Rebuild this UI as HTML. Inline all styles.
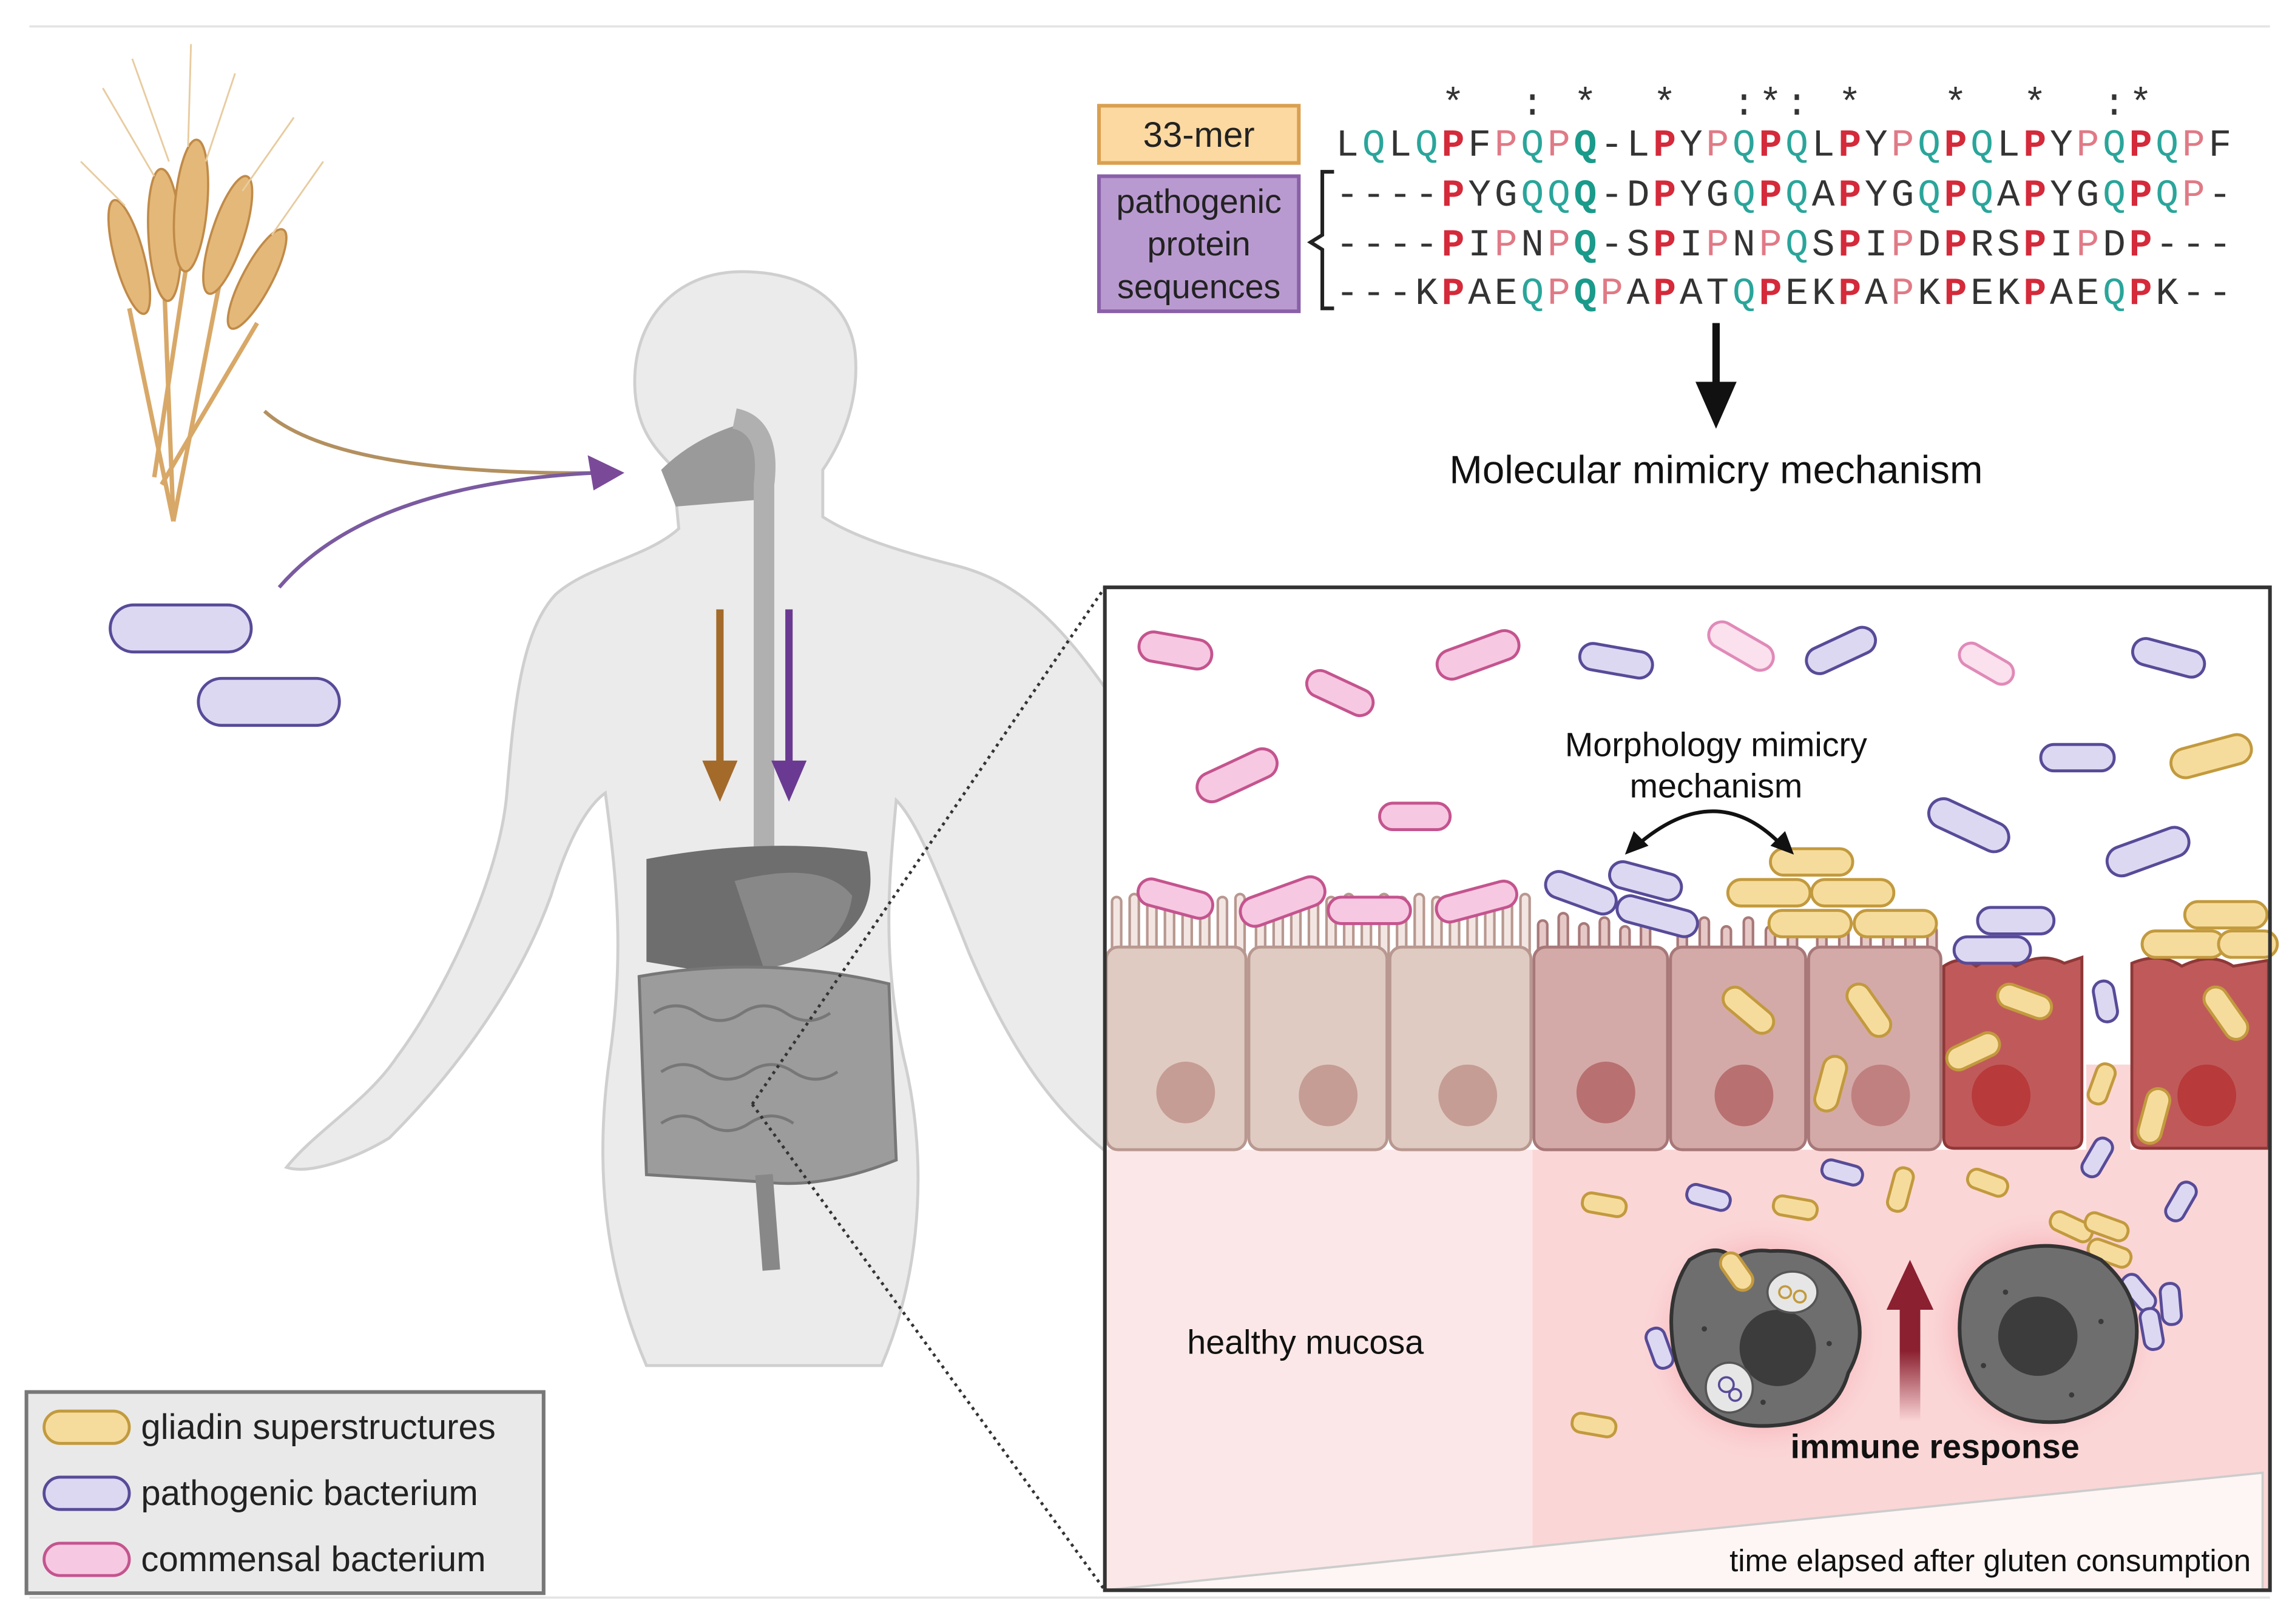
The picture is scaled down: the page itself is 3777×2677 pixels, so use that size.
<!DOCTYPE html>
<html><head><meta charset="utf-8"><style>
html,body{margin:0;padding:0;background:#fff}
svg{display:block}
text{font-family:"Liberation Sans",sans-serif}
.m{font-family:"Liberation Mono",monospace;font-size:26px;text-anchor:middle;fill:#333}
.R{fill:#d42a3a;font-weight:bold}.r{fill:#e07a86}.t{fill:#2aa59a}.T{fill:#1a9a8a;font-weight:bold}
.pk{fill:#f7c8e2;stroke:#c4548e;stroke-width:2}
.pl{fill:#fbe0ee;stroke:#e08ab8;stroke-width:2}
.pu{fill:#dcd8f2;stroke:#574b98;stroke-width:2}
.ye{fill:#f6dc9c;stroke:#c29a3e;stroke-width:2}
</style></head><body>
<svg width="3777" height="2677" viewBox="0 0 1560 1106" preserveAspectRatio="none" xmlns="http://www.w3.org/2000/svg">
<defs>
<linearGradient id="ar" x1="0" y1="1" x2="0" y2="0"><stop offset="0" stop-color="#8b2030" stop-opacity="0"/><stop offset="0.6" stop-color="#8b2030"/></linearGradient>
<radialGradient id="glow"><stop offset="0.6" stop-color="#f4a0a8" stop-opacity="0.7"/><stop offset="1" stop-color="#fbd5d6" stop-opacity="0"/></radialGradient>
</defs>
<line x1="20" y1="18" x2="1545" y2="18" stroke="#e4e4e4" stroke-width="1.5"/>
<line x1="20" y1="1088" x2="1545" y2="1088" stroke="#e4e4e4" stroke-width="1.5"/>

<!-- wheat -->
<g stroke="#d8a868" stroke-width="3" fill="none">
<path d="M118 355 L112 200"/><path d="M118 355 L150 190"/><path d="M110 330 L175 220"/><path d="M118 355 L88 210"/><path d="M105 325 L130 160"/>
</g>
<g fill="#e4b878" stroke="#c08a48" stroke-width="1.5">
<ellipse cx="112" cy="160" rx="11" ry="45" transform="rotate(-3 112 160)"/>
<ellipse cx="130" cy="140" rx="11" ry="45" transform="rotate(5 130 140)"/>
<ellipse cx="155" cy="160" rx="11" ry="42" transform="rotate(18 155 160)"/>
<ellipse cx="88" cy="175" rx="10" ry="40" transform="rotate(-15 88 175)"/>
<ellipse cx="175" cy="190" rx="10" ry="38" transform="rotate(28 175 190)"/>
</g>
<g stroke="#e8cca0" stroke-width="1.2">
<path d="M70 60 L105 120 M90 40 L115 110 M130 30 L128 100 M160 50 L140 110 M200 80 L165 130 M220 110 L185 160 M55 110 L85 140"/>
</g>

<!-- body -->
<path d="M505 185 C462 185 432 215 432 260 C432 290 445 305 458 318 L462 360 C440 380 400 385 378 405 C355 430 350 480 345 540 C340 600 300 680 270 720 C250 750 215 770 195 795 C210 800 240 790 265 775 C300 740 350 680 375 610 C390 560 405 545 412 540 C420 600 425 650 415 720 C405 790 410 860 440 930 L600 930 C630 860 630 780 615 720 C600 650 605 600 610 545 C625 560 640 600 660 650 C690 720 720 760 760 790 L760 480 C720 420 690 395 650 385 C610 375 580 365 560 352 L560 320 C575 298 585 270 582 240 C578 205 548 185 505 185 Z" fill="#ebebeb" stroke="#cfcfcf" stroke-width="2"/>
<path d="M450 320 Q470 300 500 290 L515 300 L520 340 L460 345 Z" fill="#9a9a9a"/>
<path d="M500 285 Q525 290 520 330 L520 580" stroke="#b0b0b0" stroke-width="14" fill="none"/>
<path d="M440 585 Q520 570 590 580 Q600 620 570 640 Q520 670 470 660 L440 655 Z" fill="#6e6e6e"/>
<path d="M500 600 Q560 585 580 610 Q575 650 520 660 Z" fill="#888"/>
<path d="M435 665 Q520 650 605 670 L610 790 Q560 810 520 805 L440 800 Z" fill="#9c9c9c" stroke="#777" stroke-width="2"/>
<path d="M520 800 L525 865" stroke="#888" stroke-width="12"/>
<path d="M445 690 q15 -10 30 0 q15 10 30 0 q15 -10 30 0 q15 10 30 0 M450 730 q15 -10 30 0 q15 10 30 0 q15 -10 30 0 q15 10 30 0 M450 765 q15 -10 30 0 q15 10 30 0 q15 -10 30 0" stroke="#777" stroke-width="2" fill="none"/>

<!-- arrows to mouth -->
<path d="M180 280 Q230 325 420 322" stroke="#b39060" stroke-width="2.5" fill="none"/>
<path d="M190 400 Q250 330 405 322" stroke="#7a5aa0" stroke-width="2.5" fill="none"/>
<polygon points="425,322 400,310 404,334" fill="#7a4a98"/>
<rect class="pu" x="75" y="412" width="96" height="32" rx="16" stroke-width="2.5"/>
<rect class="pu" x="135" y="462" width="96" height="32" rx="16" stroke-width="2.5"/>
<!-- down arrows -->
<line x1="490" y1="415" x2="490" y2="525" stroke="#a36a2a" stroke-width="5"/><polygon points="478,518 502,518 490,546" fill="#a36a2a"/>
<line x1="537" y1="415" x2="537" y2="525" stroke="#6a3a92" stroke-width="5"/><polygon points="525,518 549,518 537,546" fill="#6a3a92"/>

<!-- dotted zoom lines -->
<line x1="512" y1="752" x2="752" y2="400" stroke="#333" stroke-width="2" stroke-dasharray="2,3"/>
<line x1="512" y1="752" x2="752" y2="1083" stroke="#333" stroke-width="2" stroke-dasharray="2,3"/>

<!-- legend -->
<rect x="18" y="948" width="352" height="137" fill="#e9e9e9" stroke="#777" stroke-width="2.5"/>
<rect class="ye" x="30" y="961" width="58" height="22" rx="11"/>
<rect class="pu" x="30" y="1006" width="58" height="22" rx="11"/>
<rect class="pk" x="30" y="1051" width="58" height="22" rx="11"/>
<text x="96" y="980" font-size="24" fill="#222">gliadin superstructures</text>
<text x="96" y="1025" font-size="24" fill="#222">pathogenic bacterium</text>
<text x="96" y="1070" font-size="24" fill="#222">commensal bacterium</text>

<!-- sequence panel -->
<rect x="748" y="72" width="136" height="39" fill="#fcd9a0" stroke="#d9a050" stroke-width="2.5"/>
<text x="816" y="100" font-size="24" text-anchor="middle" fill="#222">33-mer</text>
<rect x="748" y="120" width="136" height="92" fill="#b99ad0" stroke="#8a60a8" stroke-width="2.5"/>
<text x="816" y="145" font-size="23" text-anchor="middle" fill="#222">pathogenic</text>
<text x="816" y="174" font-size="23" text-anchor="middle" fill="#222">protein</text>
<text x="816" y="203" font-size="23" text-anchor="middle" fill="#222">sequences</text>
<path d="M908 117 L900 117 L900 160 L892 165 L900 170 L900 210 L908 210" stroke="#222" stroke-width="2.5" fill="none"/>

<text class="m" x="989 1043 1079 1133 1187 1205 1223 1259 1331 1385 1439 1457" y="78" font-size="24">*:**:*:***:*</text>
<text class="m" y="106" x="917 935 953 971 989 1007 1025 1043 1061 1079 1097 1115 1133 1151 1169 1187 1205 1223 1241 1259 1277 1295 1313 1331 1349 1367 1385 1403 1421 1439 1457 1475 1493 1511">L<tspan class="t">Q</tspan>L<tspan class="t">Q</tspan><tspan class="R">P</tspan>F<tspan class="r">P</tspan><tspan class="t">Q</tspan><tspan class="r">P</tspan><tspan class="T">Q</tspan>-L<tspan class="R">P</tspan>Y<tspan class="r">P</tspan><tspan class="t">Q</tspan><tspan class="R">P</tspan><tspan class="t">Q</tspan>L<tspan class="R">P</tspan>Y<tspan class="r">P</tspan><tspan class="t">Q</tspan><tspan class="R">P</tspan><tspan class="t">Q</tspan>L<tspan class="R">P</tspan>Y<tspan class="r">P</tspan><tspan class="t">Q</tspan><tspan class="R">P</tspan><tspan class="t">Q</tspan><tspan class="r">P</tspan>F</text>
<text class="m" y="140" x="917 935 953 971 989 1007 1025 1043 1061 1079 1097 1115 1133 1151 1169 1187 1205 1223 1241 1259 1277 1295 1313 1331 1349 1367 1385 1403 1421 1439 1457 1475 1493 1511">----<tspan class="R">P</tspan>YG<tspan class="t">QQ</tspan><tspan class="T">Q</tspan>-D<tspan class="R">P</tspan>YG<tspan class="t">Q</tspan><tspan class="R">P</tspan><tspan class="t">Q</tspan>A<tspan class="R">P</tspan>YG<tspan class="t">Q</tspan><tspan class="R">P</tspan><tspan class="t">Q</tspan>A<tspan class="R">P</tspan>YG<tspan class="t">Q</tspan><tspan class="R">P</tspan><tspan class="t">Q</tspan><tspan class="r">P</tspan>-</text>
<text class="m" y="174" x="917 935 953 971 989 1007 1025 1043 1061 1079 1097 1115 1133 1151 1169 1187 1205 1223 1241 1259 1277 1295 1313 1331 1349 1367 1385 1403 1421 1439 1457 1475 1493 1511">----<tspan class="R">P</tspan>I<tspan class="r">P</tspan>N<tspan class="r">P</tspan><tspan class="T">Q</tspan>-S<tspan class="R">P</tspan>I<tspan class="r">P</tspan>N<tspan class="r">P</tspan><tspan class="t">Q</tspan>S<tspan class="R">P</tspan>I<tspan class="r">P</tspan>D<tspan class="R">P</tspan>RS<tspan class="R">P</tspan>I<tspan class="r">P</tspan>D<tspan class="R">P</tspan>---</text>
<text class="m" y="207" x="917 935 953 971 989 1007 1025 1043 1061 1079 1097 1115 1133 1151 1169 1187 1205 1223 1241 1259 1277 1295 1313 1331 1349 1367 1385 1403 1421 1439 1457 1475 1493 1511">---K<tspan class="R">P</tspan>AE<tspan class="t">Q</tspan><tspan class="r">P</tspan><tspan class="T">Q</tspan><tspan class="r">P</tspan>A<tspan class="R">P</tspan>AT<tspan class="t">Q</tspan><tspan class="R">P</tspan>EK<tspan class="R">P</tspan>A<tspan class="r">P</tspan>K<tspan class="R">P</tspan>EK<tspan class="R">P</tspan>AE<tspan class="t">Q</tspan><tspan class="R">P</tspan>K--</text>

<line x1="1168" y1="220" x2="1168" y2="265" stroke="#111" stroke-width="5"/>
<polygon points="1154,260 1182,260 1168,292" fill="#111"/>
<text x="1168" y="329" font-size="27" text-anchor="middle" fill="#111">Molecular mimicry mechanism</text>

<!-- zoom panel -->
<rect x="752" y="400" width="793" height="683" fill="#fff"/>
<rect x="752" y="783" width="291" height="300" fill="#fbe7e7"/>
<rect x="1043" y="783" width="502" height="300" fill="#fbd6d7"/>
<rect x="1420" y="725" width="30" height="60" fill="#fbd6d7"/>
<polygon points="752,1083 1540,1003 1540,1083" fill="#fdf6f4" stroke="#ccc" stroke-width="1.5"/>
<circle cx="1200" cy="912" r="85" fill="url(#glow)"/>
<circle cx="1390" cy="905" r="82" fill="url(#glow)"/>

<!-- villi -->
<g stroke-linecap="round" fill="none">
<path stroke="#b89890" stroke-width="8" d="M760 650 V614 M772 650 V612 M784 650 V614 M796 650 V612 M808 650 V614 M820 650 V612 M832 650 V614 M844 650 V612 M858 650 V614 M870 650 V612 M882 650 V614 M894 650 V612 M906 650 V614 M918 650 V612 M930 650 V614 M942 650 V612 M954 650 V614 M966 650 V612 M978 650 V614 M990 650 V612 M1002 650 V614 M1014 650 V612 M1026 650 V614 M1038 650 V612"/>
<path stroke="#f3e6e2" stroke-width="4.5" d="M760 650 V614 M772 650 V612 M784 650 V614 M796 650 V612 M808 650 V614 M820 650 V612 M832 650 V614 M844 650 V612 M858 650 V614 M870 650 V612 M882 650 V614 M894 650 V612 M906 650 V614 M918 650 V612 M930 650 V614 M942 650 V612 M954 650 V614 M966 650 V612 M978 650 V614 M990 650 V612 M1002 650 V614 M1014 650 V612 M1026 650 V614 M1038 650 V612"/>
<path stroke="#a87878" stroke-width="8" d="M1050 650 V630 M1064 650 V625 M1078 650 V632 M1092 650 V628 M1106 650 V634 M1120 650 V630 M1145 650 V632 M1160 650 V628 M1175 650 V634 M1190 650 V628 M1205 650 V634 M1220 650 V628 M1240 650 V636 M1255 650 V632 M1270 650 V636 M1285 650 V632 M1300 650 V636 M1315 650 V634"/>
<path stroke="#e6c8c6" stroke-width="4.5" d="M1050 650 V630 M1064 650 V625 M1078 650 V632 M1092 650 V628 M1106 650 V634 M1120 650 V630 M1145 650 V632 M1160 650 V628 M1175 650 V634 M1190 650 V628 M1205 650 V634 M1220 650 V628 M1240 650 V636 M1255 650 V632 M1270 650 V636 M1285 650 V632 M1300 650 V636 M1315 650 V634"/>
</g>
<g stroke-width="2">
<rect x="753" y="645" width="95" height="138" rx="8" fill="#e0cbc3" stroke="#b89890"/>
<rect x="850" y="645" width="94" height="138" rx="8" fill="#e0cbc3" stroke="#b89890"/>
<rect x="946" y="645" width="96" height="138" rx="8" fill="#e0cbc3" stroke="#b89890"/>
<rect x="1044" y="645" width="91" height="138" rx="8" fill="#d4aaa8" stroke="#a87878"/>
<rect x="1137" y="645" width="92" height="138" rx="8" fill="#d4aaa8" stroke="#a87878"/>
<rect x="1231" y="645" width="90" height="138" rx="8" fill="#d4aaa8" stroke="#a87878"/>
<path d="M1323 658 Q1335 650 1345 658 Q1360 648 1372 658 Q1390 648 1405 656 L1417 652 V775 Q1417 782 1410 782 H1330 Q1323 782 1323 775 Z" fill="#c05a5a" stroke="#903838"/>
<path d="M1451 656 Q1470 648 1485 658 Q1505 648 1520 658 L1544 654 V782 H1458 Q1451 782 1451 775 Z" fill="#c05a5a" stroke="#903838"/>
</g>
<g>
<ellipse cx="807" cy="744" rx="20" ry="21" fill="#c59d94"/>
<ellipse cx="904" cy="746" rx="20" ry="21" fill="#c59d94"/>
<ellipse cx="999" cy="746" rx="20" ry="21" fill="#c59d94"/>
<ellipse cx="1093" cy="744" rx="20" ry="21" fill="#b87070"/>
<ellipse cx="1187" cy="746" rx="20" ry="21" fill="#b87070"/>
<ellipse cx="1280" cy="746" rx="20" ry="21" fill="#c08080"/>
<ellipse cx="1362" cy="746" rx="20" ry="21" fill="#b83a3a"/>
<ellipse cx="1502" cy="746" rx="20" ry="21" fill="#b83a3a"/>
</g>

<!-- bacteria -->
<g>
<rect class="pk" x="-25" y="-10" width="50" height="20" rx="10" transform="translate(800,443) rotate(10)"/>
<rect class="pk" x="-24" y="-9" width="48" height="18" rx="9" transform="translate(912,472) rotate(25)"/>
<rect class="pk" x="-29" y="-10" width="58" height="20" rx="10" transform="translate(1006,446) rotate(-20)"/>
<rect class="pk" x="-29" y="-10" width="58" height="20" rx="10" transform="translate(842,528) rotate(-25)"/>
<rect class="pk" x="-24" y="-9" width="48" height="18" rx="9" transform="translate(963,556)"/>
<rect class="pl" x="-24" y="-9" width="48" height="18" rx="9" transform="translate(1185,440) rotate(30)"/>
<rect class="pl" x="-20" y="-8" width="40" height="16" rx="8" transform="translate(1352,452) rotate(30)"/>
<rect class="pk" x="-26" y="-9" width="52" height="18" rx="9" transform="translate(800,612) rotate(15)"/>
<rect class="pk" x="-30" y="-10" width="60" height="20" rx="10" transform="translate(873,614) rotate(-20)"/>
<rect class="pk" x="-28" y="-9" width="56" height="18" rx="9" transform="translate(932,620)"/>
<rect class="pk" x="-28" y="-9" width="56" height="18" rx="9" transform="translate(1005,614) rotate(-15)"/>

<rect class="pu" x="-25" y="-9" width="50" height="18" rx="9" transform="translate(1100,450) rotate(10)"/>
<rect class="pu" x="-25" y="-9" width="50" height="18" rx="9" transform="translate(1253,443) rotate(-25)"/>
<rect class="pu" x="-25" y="-9" width="50" height="18" rx="9" transform="translate(1476,448) rotate(15)"/>
<rect class="pu" x="-25" y="-9" width="50" height="18" rx="9" transform="translate(1414,516)"/>
<rect class="pu" x="-29" y="-10" width="58" height="20" rx="10" transform="translate(1340,562) rotate(25)"/>
<rect class="pu" x="-29" y="-10" width="58" height="20" rx="10" transform="translate(1462,580) rotate(-20)"/>
<rect class="pu" x="-25" y="-9" width="50" height="18" rx="9" transform="translate(1076,608) rotate(20)"/>
<rect class="pu" x="-25" y="-9" width="50" height="18" rx="9" transform="translate(1120,600) rotate(15)"/>
<rect class="pu" x="-28" y="-9" width="56" height="18" rx="9" transform="translate(1128,624) rotate(15)"/>
<rect class="pu" x="-26" y="-9" width="52" height="18" rx="9" transform="translate(1372,627)"/>
<rect class="pu" x="-26" y="-9" width="52" height="18" rx="9" transform="translate(1356,647)"/>
<rect class="pu" x="-14" y="-7" width="28" height="14" rx="7" transform="translate(1433,682) rotate(80)"/>
<rect class="pu" x="-15" y="-6" width="30" height="13" rx="6" transform="translate(1163,815) rotate(15)"/>
<rect class="pu" x="-14" y="-6" width="28" height="13" rx="6" transform="translate(1254,798) rotate(15)"/>
<rect class="pu" x="-14" y="-6" width="28" height="13" rx="6" transform="translate(1427,788) rotate(-60)"/>
<rect class="pu" x="-14" y="-6" width="28" height="13" rx="6" transform="translate(1484,818) rotate(-60)"/>
<rect class="pu" x="-14" y="-6" width="28" height="13" rx="6" transform="translate(1130,918) rotate(70)"/>
<rect class="pu" x="-14" y="-6" width="28" height="13" rx="6" transform="translate(1456,880) rotate(50)"/>
<rect class="pu" x="-14" y="-6" width="28" height="13" rx="6" transform="translate(1478,888) rotate(85)"/>
<rect class="pu" x="-14" y="-6" width="28" height="13" rx="6" transform="translate(1465,905) rotate(80)"/>

<rect class="ye" x="-28" y="-10" width="56" height="20" rx="10" transform="translate(1505,515) rotate(-15)"/>
<rect class="ye" x="-28" y="-9" width="56" height="18" rx="9" transform="translate(1233,587)"/>
<rect class="ye" x="-28" y="-9" width="56" height="18" rx="9" transform="translate(1204,608)"/>
<rect class="ye" x="-28" y="-9" width="56" height="18" rx="9" transform="translate(1261,608)"/>
<rect class="ye" x="-28" y="-9" width="56" height="18" rx="9" transform="translate(1232,629)"/>
<rect class="ye" x="-28" y="-9" width="56" height="18" rx="9" transform="translate(1290,629)"/>
<rect class="ye" x="-28" y="-9" width="56" height="18" rx="9" transform="translate(1515,623)"/>
<rect class="ye" x="-28" y="-9" width="56" height="18" rx="9" transform="translate(1486,643)"/>
<rect class="ye" x="-20" y="-9" width="40" height="18" rx="9" transform="translate(1530,643)"/>
<rect class="ye" x="-20" y="-8" width="40" height="16" rx="8" transform="translate(1190,688) rotate(40)"/>
<rect class="ye" x="-20" y="-8" width="40" height="16" rx="8" transform="translate(1272,688) rotate(55)"/>
<rect class="ye" x="-19" y="-8" width="38" height="16" rx="8" transform="translate(1378,682) rotate(20)"/>
<rect class="ye" x="-19" y="-8" width="38" height="16" rx="8" transform="translate(1343,716) rotate(-25)"/>
<rect class="ye" x="-19" y="-8" width="38" height="16" rx="8" transform="translate(1246,738) rotate(-75)"/>
<rect class="ye" x="-19" y="-8" width="38" height="16" rx="8" transform="translate(1466,760) rotate(-75)"/>
<rect class="ye" x="-20" y="-8" width="40" height="16" rx="8" transform="translate(1515,690) rotate(55)"/>
<rect class="ye" x="-14" y="-6" width="28" height="13" rx="6" transform="translate(1430,738) rotate(-70)"/>
<rect class="ye" x="-15" y="-6" width="30" height="13" rx="6" transform="translate(1092,820) rotate(10)"/>
<rect class="ye" x="-15" y="-6" width="30" height="13" rx="6" transform="translate(1222,822) rotate(10)"/>
<rect class="ye" x="-15" y="-6" width="30" height="13" rx="6" transform="translate(1293,810) rotate(-75)"/>
<rect class="ye" x="-14" y="-6" width="28" height="13" rx="6" transform="translate(1353,805) rotate(20)"/>
<rect class="ye" x="-15" y="-6" width="30" height="13" rx="6" transform="translate(1410,835) rotate(25)"/>
<rect class="ye" x="-15" y="-6" width="30" height="13" rx="6" transform="translate(1434,835) rotate(20)"/>
<rect class="ye" x="-15" y="-6" width="30" height="13" rx="6" transform="translate(1436,853) rotate(20)"/>
<rect class="ye" x="-15" y="-6" width="30" height="13" rx="6" transform="translate(1085,970) rotate(10)"/>
</g>

<!-- macrophages -->
<path d="M1150 858 Q1170 845 1180 858 Q1190 850 1205 852 Q1240 850 1255 875 Q1275 905 1258 935 Q1250 965 1215 970 Q1180 975 1160 958 Q1140 940 1138 910 Q1135 880 1150 858 Z" fill="#6e6e6e" stroke="#333" stroke-width="2.5"/>
<circle cx="1210" cy="918" r="26" fill="#3c3c3c"/>
<ellipse cx="1220" cy="880" rx="17" ry="14" fill="#e6e6e6" stroke="#555" stroke-width="1.5"/>
<ellipse cx="1177" cy="945" rx="16" ry="17" fill="#e6e6e6" stroke="#555" stroke-width="1.5"/>
<circle cx="1215" cy="880" r="4" fill="none" stroke="#c29a3e" stroke-width="1.5"/><circle cx="1225" cy="883" r="4" fill="none" stroke="#c29a3e" stroke-width="1.5"/>
<circle cx="1175" cy="943" r="5" fill="none" stroke="#574b98" stroke-width="1.5"/><circle cx="1181" cy="950" r="4" fill="none" stroke="#574b98" stroke-width="1.5"/>
<rect class="ye" x="-14" y="-7" width="28" height="14" rx="7" transform="translate(1182,866) rotate(55)"/>
<path d="M1352 860 Q1390 838 1430 858 Q1462 885 1452 925 Q1445 960 1405 968 Q1365 972 1345 945 Q1330 920 1335 890 Q1338 870 1352 860 Z" fill="#6e6e6e" stroke="#333" stroke-width="2.5"/>
<circle cx="1387" cy="910" r="27" fill="#3c3c3c"/>
<g fill="#3a3a3a"><circle cx="1160" cy="905" r="1.8"/><circle cx="1245" cy="915" r="1.8"/><circle cx="1200" cy="955" r="1.8"/><circle cx="1365" cy="880" r="1.8"/><circle cx="1430" cy="900" r="1.8"/><circle cx="1410" cy="950" r="1.8"/><circle cx="1350" cy="930" r="1.8"/></g>
<rect x="1293" y="888" width="14" height="80" fill="url(#ar)"/>
<polygon points="1284,892 1316,892 1300,858" fill="#8b2030"/>

<!-- texts -->
<text x="1168" y="515" font-size="23" text-anchor="middle" fill="#111">Morphology mimicry</text>
<text x="1168" y="543" font-size="23" text-anchor="middle" fill="#111">mechanism</text>
<path d="M1115 575 Q1168 530 1212 575" stroke="#111" stroke-width="2.5" fill="none"/>
<polygon points="1106,582 1112,566 1122,576" fill="#111"/>
<polygon points="1221,582 1215,566 1205,576" fill="#111"/>
<text x="808" y="922" font-size="23" fill="#111">healthy mucosa</text>
<text x="1317" y="993" font-size="23" font-weight="bold" text-anchor="middle" fill="#111">immune response</text>
<text x="1532" y="1070" font-size="21" text-anchor="end" fill="#111">time elapsed after gluten consumption</text>
<rect x="752" y="400" width="793" height="683" fill="none" stroke="#333" stroke-width="2.5"/>
</svg>
</body></html>
